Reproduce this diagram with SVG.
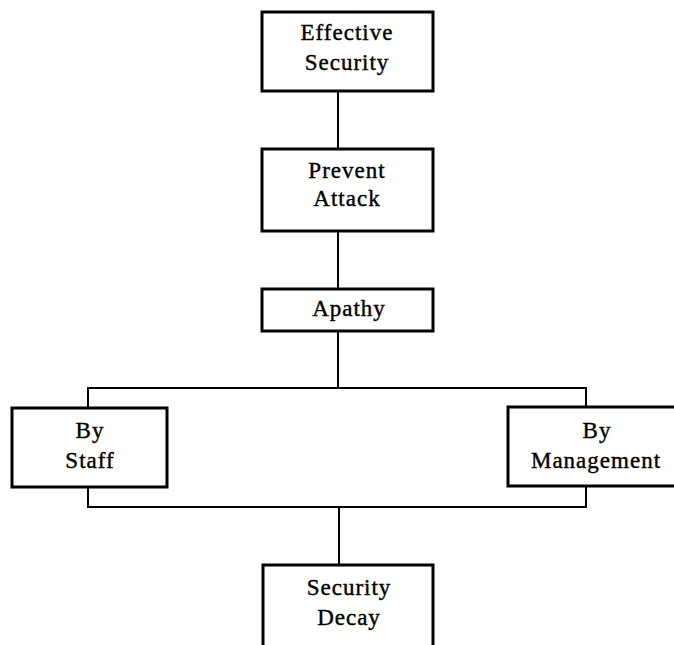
<svg xmlns="http://www.w3.org/2000/svg" width="674" height="645" viewBox="0 0 674 645">
<style>
.box{fill:#fff;stroke:#000;stroke-width:3}
.con{fill:none;stroke:#000;stroke-width:2}
text{font-family:"Liberation Serif","Times New Roman",serif;font-size:23px;letter-spacing:1px;text-anchor:middle;fill:#000;stroke:#000;stroke-width:0.4}
</style>
<rect width="674" height="645" fill="#fff"/>
<g id="connectors">
<path class="con" d="M338 91V149"/>
<path class="con" d="M338 231V289"/>
<path class="con" d="M338 331V388"/>
<path class="con" d="M88 408V388H586V407"/>
<path class="con" d="M88 487V507H586V486"/>
<path class="con" d="M339 507V565"/>
</g>
<g id="effective-security">
<rect class="box" x="262" y="12" width="171" height="79"/>
<text x="347" y="40">Effective</text>
<text x="347" y="70">Security</text>
</g>
<g id="prevent-attack">
<rect class="box" x="262" y="149" width="171" height="82"/>
<text x="347" y="178">Prevent</text>
<text x="347" y="206">Attack</text>
</g>
<g id="apathy">
<rect class="box" x="262" y="289" width="171" height="42"/>
<text x="349" y="316">Apathy</text>
</g>
<g id="by-staff">
<rect class="box" x="12" y="408" width="155" height="79"/>
<text x="90" y="438">By</text>
<text x="90" y="468">Staff</text>
</g>
<g id="by-management">
<rect class="box" x="508" y="407" width="170" height="79"/>
<text x="597" y="438">By</text>
<text x="596" y="468">Management</text>
</g>
<g id="security-decay">
<rect class="box" x="263" y="565" width="170" height="90"/>
<text x="349" y="595">Security</text>
<text x="349" y="625">Decay</text>
</g>
</svg>
